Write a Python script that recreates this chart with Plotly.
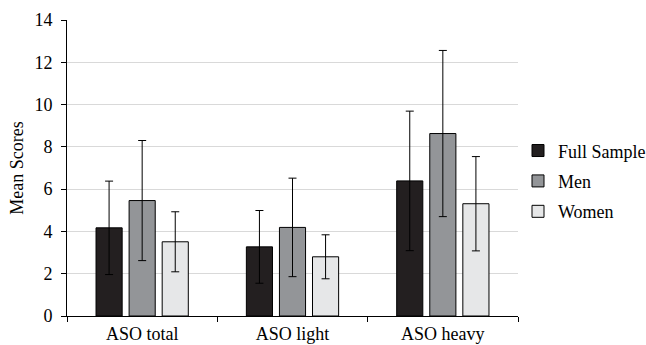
import plotly.graph_objects as go

categories = ["ASO total", "ASO light", "ASO heavy"]
series_names = ["Full Sample", "Men", "Women"]
full_sample = [4.17, 3.27, 6.39]
full_sample_err = [2.21, 1.72, 3.30]
men = [5.46, 4.19, 8.63]
men_err = [2.84, 2.33, 3.93]
women = [3.51, 2.80, 5.31]
women_err = [1.42, 1.04, 2.23]
y_ticks = [0, 2, 4, 6, 8, 10, 12, 14]

colors = ["#231f20", "#939598", "#e6e7e8"]
values = [full_sample, men, women]
errors = [full_sample_err, men_err, women_err]

font_family = "'Liberation Serif', 'DejaVu Serif', serif"

fig = go.Figure()
for i, name in enumerate(series_names):
    fig.add_trace(go.Bar(
        x=categories, y=values[i], name=name, legendgroup=name,
        marker=dict(color=colors[i], line=dict(color="#000000", width=1)),
        error_y=dict(type="data", array=errors[i], visible=True,
                     color="#000000", thickness=1, width=4),
    ))

fig.update_layout(
    width=646, height=345,
    margin=dict(l=67, r=128, t=20, b=29, pad=0, autoexpand=False),
    paper_bgcolor="white", plot_bgcolor="white",
    barmode="group", bargap=0.34, bargroupgap=0.21,
    font=dict(family=font_family, size=18, color="#000000"),
    showlegend=True,
    legend=dict(x=1.0, y=0.455, xanchor="left", yanchor="middle",
                traceorder="grouped", tracegroupgap=4, itemwidth=30,
                font=dict(family=font_family, size=18, color="#000000")),
)
fig.update_xaxes(
    type="category", tickson="boundaries", ticks="outside", ticklen=5,
    tickcolor="#000000", showline=True, linecolor="#000000", linewidth=1,
    showgrid=False, tickfont=dict(family=font_family, size=18), automargin=False,
    ticklabelstandoff=1,
)
fig.update_yaxes(
    range=[0, 14], tickvals=y_ticks, ticks="outside", ticklen=5,
    tickcolor="#000000", showline=True, linecolor="#000000", linewidth=1,
    showgrid=True, gridcolor="#d9d9d9", gridwidth=1, zeroline=False,
    title=dict(text="Mean Scores", font=dict(family=font_family, size=18), standoff=6),
    tickfont=dict(family=font_family, size=18), automargin=False,
    ticklabelstandoff=5,
)

fig.write_html("out.html")
